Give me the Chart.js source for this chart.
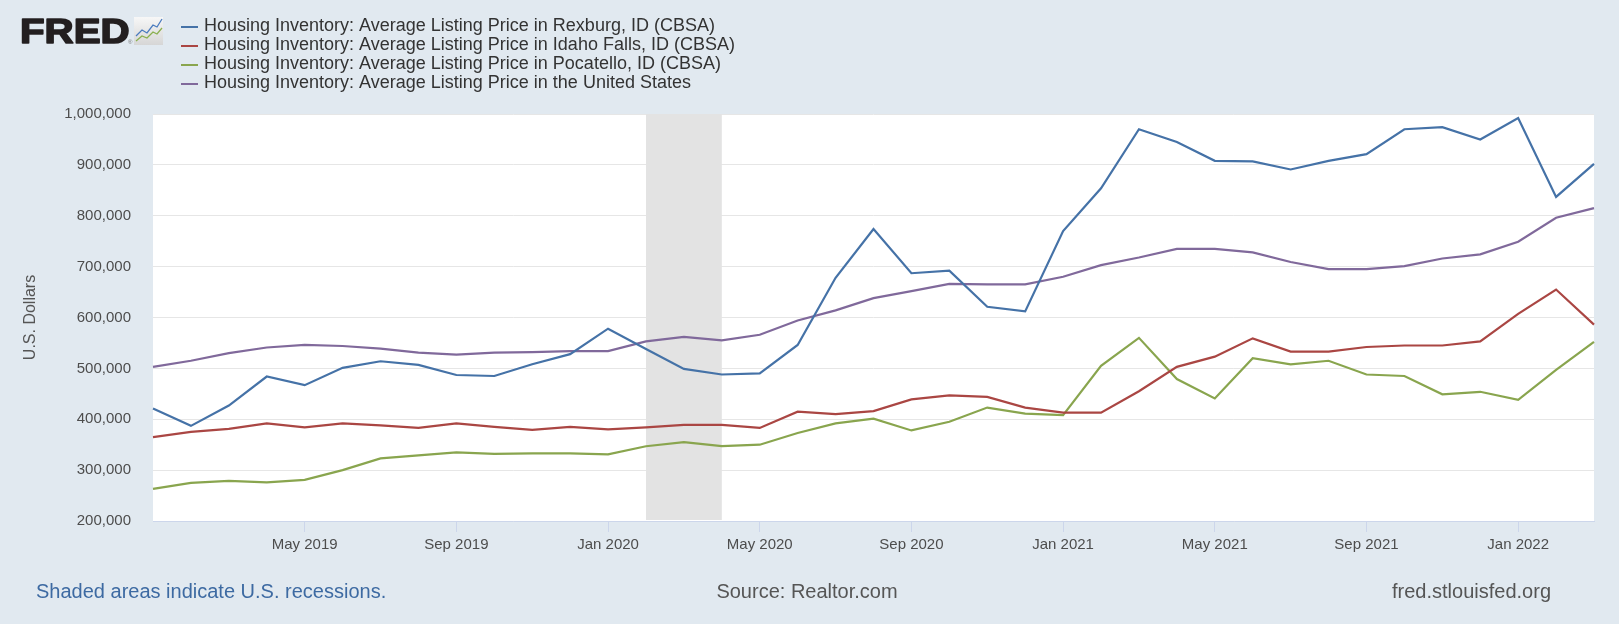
<!DOCTYPE html>
<html>
<head>
<meta charset="utf-8">
<script src="https://cdn.jsdelivr.net/npm/chart.js@4.4.1/dist/chart.umd.min.js"></script>
<style>
html, body { margin: 0; padding: 0; background: #e1e9f0; }
</style>
</head>
<body>
<canvas id="chart" width="1619" height="624"></canvas>
<script>
const months = [
  'Jan 2019','Feb 2019','Mar 2019','Apr 2019','May 2019','Jun 2019','Jul 2019','Aug 2019','Sep 2019','Oct 2019','Nov 2019','Dec 2019',
  'Jan 2020','Feb 2020','Mar 2020','Apr 2020','May 2020','Jun 2020','Jul 2020','Aug 2020','Sep 2020','Oct 2020','Nov 2020','Dec 2020',
  'Jan 2021','Feb 2021','Mar 2021','Apr 2021','May 2021','Jun 2021','Jul 2021','Aug 2021','Sep 2021','Oct 2021','Nov 2021','Dec 2021',
  'Jan 2022','Feb 2022','Mar 2022'
];

// thousands of dollars
const rexburg = [421,387,427,484,467,501,514,507,487,485,508,528,578,538,499,488,490,546,678,774,687,692,621,612,770,854,970,945,908,907,891,908,921,970,974,950,992,837,902];
const idahoFalls = [365,375,381,392,384,392,388,383,392,385,379,385,380,384,389,389,383,415,410,416,439,447,444,423,413,413,455,503,523,559,533,533,542,545,545,553,607,655,586];
const pocatello = [263,275,279,276,281,300,323,329,335,332,333,333,331,347,355,347,350,373,392,401,378,395,423,411,408,505,560,479,441,520,508,515,488,485,449,454,438,497,552];
const unitedStates = [503,515,530,541,546,544,539,531,527,531,532,534,534,553,562,555,566,594,614,638,652,666,665,665,680,703,718,735,735,728,709,695,695,701,716,724,749,796,815];

const seriesNames = [
  'Housing Inventory: Average Listing Price in Rexburg, ID (CBSA)',
  'Housing Inventory: Average Listing Price in Idaho Falls, ID (CBSA)',
  'Housing Inventory: Average Listing Price in Pocatello, ID (CBSA)',
  'Housing Inventory: Average Listing Price in the United States'
];
const seriesColors = ['#4572a7', '#aa4643', '#89a54e', '#80699b'];

const recessionStart = 'Feb 2020';
const recessionEnd = 'Apr 2020';

const FONT = '"Liberation Sans", Arial, sans-serif';

const fredDecor = {
  id: 'fredDecor',
  beforeDraw(chart) {
    const ctx = chart.ctx;
    const a = chart.chartArea;
    ctx.save();
    ctx.fillStyle = '#e1e9f0';
    ctx.fillRect(0, 0, chart.width, chart.height);
    ctx.fillStyle = '#ffffff';
    ctx.fillRect(a.left, a.top, a.right - a.left, a.bottom - a.top);
    ctx.restore();
  },
  beforeDatasetsDraw(chart) {
    const ctx = chart.ctx;
    const a = chart.chartArea;
    const x = chart.scales.x;
    const x0 = x.getPixelForValue(months.indexOf(recessionStart));
    const x1 = x.getPixelForValue(months.indexOf(recessionEnd));
    ctx.save();
    ctx.fillStyle = '#e3e3e3';
    ctx.fillRect(x0, a.top, x1 - x0, a.bottom - a.top - 1);
    ctx.restore();
  },
  afterDraw(chart) {
    const ctx = chart.ctx;
    ctx.save();

    // FRED logo
    ctx.save();
    ctx.translate(20, 43);
    ctx.scale(1.15, 1);
    ctx.fillStyle = '#231f20';
    ctx.strokeStyle = '#231f20';
    ctx.lineWidth = 1.6;
    ctx.lineJoin = 'round';
    ctx.font = 'bold 35px ' + FONT;
    ctx.textBaseline = 'alphabetic';
    ctx.fillText('FRED', 0, 0);
    ctx.strokeText('FRED', 0, 0);
    ctx.restore();
    ctx.fillStyle = '#777';
    ctx.font = '6px ' + FONT;
    ctx.fillText('®', 128, 44);
    const g = ctx.createLinearGradient(0, 17, 0, 45);
    g.addColorStop(0, '#f7f7f7');
    g.addColorStop(1, '#d6d6d6');
    ctx.fillStyle = g;
    ctx.fillRect(134, 17, 29, 28);
    ctx.lineWidth = 1.3;
    ctx.strokeStyle = '#4a7bbf';
    ctx.beginPath();
    ctx.moveTo(136, 36); ctx.lineTo(142, 30); ctx.lineTo(147, 33); ctx.lineTo(153, 25); ctx.lineTo(157, 27); ctx.lineTo(162, 19);
    ctx.stroke();
    ctx.strokeStyle = '#8ab04f';
    ctx.beginPath();
    ctx.moveTo(136, 41); ctx.lineTo(142, 36); ctx.lineTo(147, 38); ctx.lineTo(153, 32); ctx.lineTo(157, 34); ctx.lineTo(162, 28);
    ctx.stroke();

    // legend
    ctx.font = '18px ' + FONT;
    ctx.textBaseline = 'middle';
    ctx.textAlign = 'left';
    chart.data.datasets.forEach((ds, i) => {
      const y = 26 + i * 19;
      ctx.strokeStyle = ds.borderColor;
      ctx.lineWidth = 2;
      ctx.beginPath();
      ctx.moveTo(181, y + 1);
      ctx.lineTo(198, y + 1);
      ctx.stroke();
      ctx.fillStyle = '#333';
      ctx.fillText(ds.label, 204, y);
    });

    // footer
    ctx.font = '20px ' + FONT;
    ctx.fillStyle = '#3d6aa2';
    ctx.fillText('Shaded areas indicate U.S. recessions.', 36, 592);
    ctx.fillStyle = '#555';
    ctx.textAlign = 'center';
    ctx.fillText('Source: Realtor.com', 807, 592);
    ctx.textAlign = 'right';
    ctx.fillText('fred.stlouisfed.org', 1551, 592);
    ctx.restore();
  }
};

new Chart(document.getElementById('chart'), {
  type: 'line',
  data: {
    labels: months,
    datasets: [rexburg, idahoFalls, pocatello, unitedStates].map((vals, i) => ({
      label: seriesNames[i],
      data: vals.map(v => v * 1000),
      borderColor: seriesColors[i],
      backgroundColor: seriesColors[i],
      borderWidth: 2.2,
      pointRadius: 0,
      tension: 0,
      fill: false
    }))
  },
  options: {
    responsive: false,
    animation: false,
    devicePixelRatio: 1,
    layout: { padding: { left: 0, top: 114, right: 25, bottom: 63 } },
    plugins: {
      legend: { display: false },
      tooltip: { enabled: false }
    },
    scales: {
      x: {
        type: 'category',
        offset: false,
        afterFit(scale) { scale.height = 40; },
        border: { display: true, color: '#ccd6eb', width: 1 },
        grid: { drawOnChartArea: false, drawTicks: true, tickLength: 11, color: '#ccd6eb' },
        ticks: {
          autoSkip: false,
          maxRotation: 0,
          padding: 4,
          color: '#4d4d4d',
          font: { family: FONT, size: 15 },
          callback: (val, i) => (i > 0 && i % 4 === 0) ? months[i] : null
        }
      },
      y: {
        min: 200000,
        max: 1000000,
        afterFit(scale) { scale.width = 153; },
        border: { display: false },
        grid: { color: '#e6e6e6', drawTicks: false },
        ticks: {
          stepSize: 100000,
          padding: 22,
          color: '#4d4d4d',
          font: { family: FONT, size: 15 },
          callback: v => v.toLocaleString('en-US')
        },
        title: {
          display: true,
          text: 'U.S. Dollars',
          color: '#555',
          font: { family: FONT, size: 16 },
          padding: { top: 21, bottom: 0 }
        }
      }
    }
  },
  plugins: [fredDecor]
});
</script>
</body>
</html>
